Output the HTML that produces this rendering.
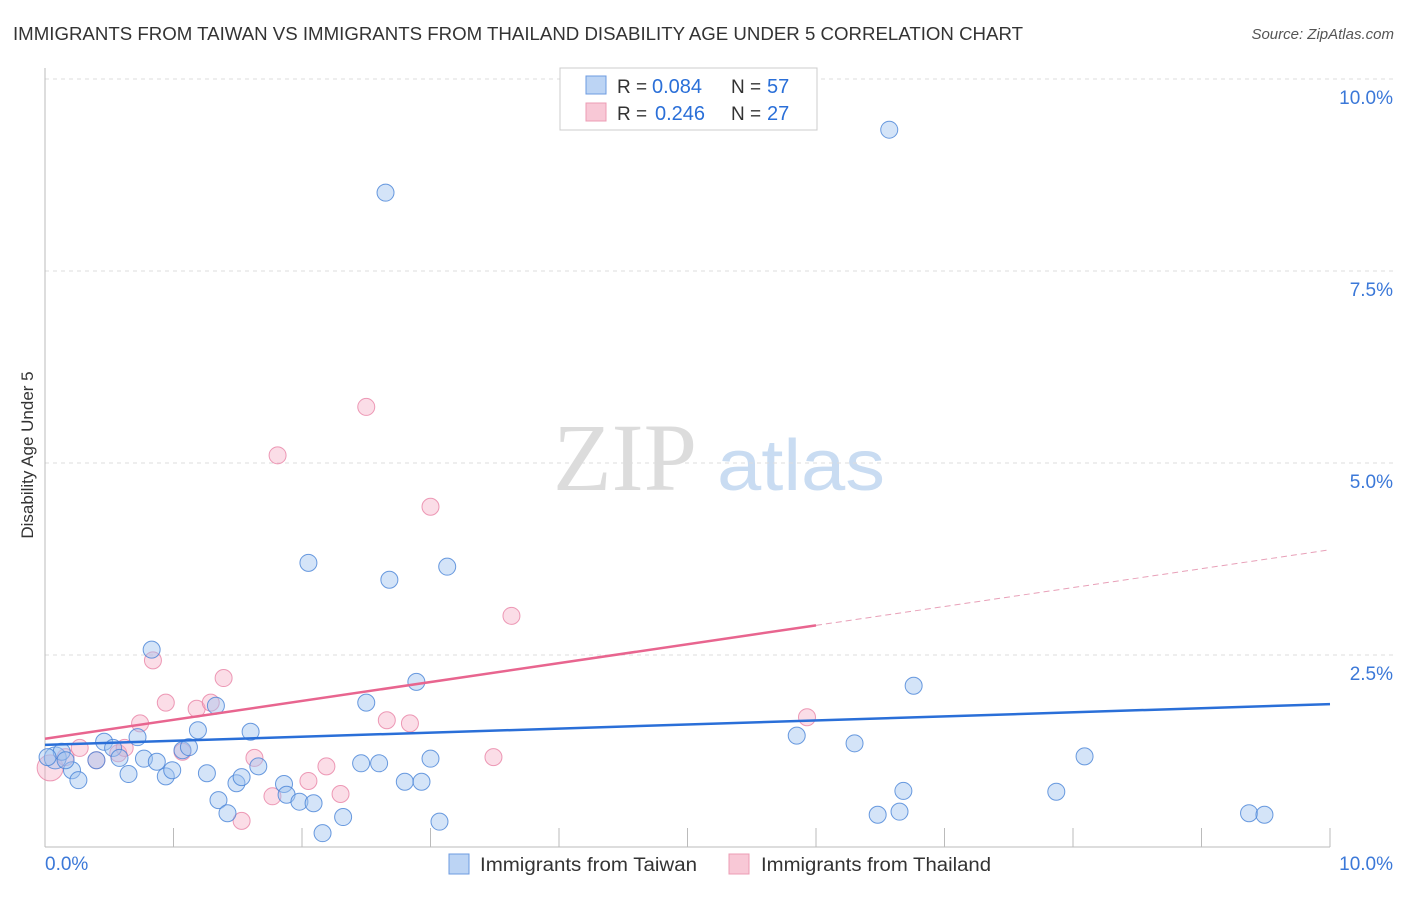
<!DOCTYPE html>
<html><head><meta charset="utf-8"><style>
body{margin:0;background:#fff;font-family:"Liberation Sans",sans-serif}
</style></head><body>
<svg id="chart" width="1406" height="892" xmlns="http://www.w3.org/2000/svg" font-family="Liberation Sans, sans-serif">
<text x="13" y="40" font-size="18" fill="#333" textLength="1010" lengthAdjust="spacingAndGlyphs">IMMIGRANTS FROM TAIWAN VS IMMIGRANTS FROM THAILAND DISABILITY AGE UNDER 5 CORRELATION CHART</text>
<text x="1394" y="39" font-size="15" fill="#555" text-anchor="end" font-style="italic">Source: ZipAtlas.com</text>
<text x="553" y="490" font-size="96" fill="#dcdcdc" font-family="Liberation Serif, serif">ZIP</text>
<text x="717" y="490" font-size="72" fill="#c9dcf2" textLength="168" lengthAdjust="spacingAndGlyphs">atlas</text>
<text transform="translate(33,455) rotate(-90)" font-size="17" fill="#333" text-anchor="middle">Disability Age Under 5</text>
<g id="grid"></g><g id="axes"></g><g id="marks"></g>
<g>
<rect x="560" y="68" width="257" height="62" fill="#fff" stroke="#ccc"/>
<rect x="586" y="76" width="20" height="18" fill="#bcd4f4" stroke="#6d9be0"/>
<rect x="586" y="103" width="20" height="18" fill="#f8c8d6" stroke="#ec9cb4"/>
<text x="617" y="93" font-size="19" fill="#333">R =</text>
<text x="652" y="93" font-size="20" fill="#2a6fd8">0.084</text>
<text x="731" y="93" font-size="19" fill="#333">N =</text>
<text x="767" y="93" font-size="20" fill="#2a6fd8">57</text>
<text x="617" y="120" font-size="19" fill="#333">R =</text>
<text x="655" y="120" font-size="20" fill="#2a6fd8">0.246</text>
<text x="731" y="120" font-size="19" fill="#333">N =</text>
<text x="767" y="120" font-size="20" fill="#2a6fd8">27</text>
</g>
<g>
<rect x="449" y="854" width="20" height="20" fill="#bcd4f4" stroke="#6d9be0"/>
<text x="480" y="871" font-size="19" fill="#333" textLength="217" lengthAdjust="spacingAndGlyphs">Immigrants from Taiwan</text>
<rect x="729" y="854" width="20" height="20" fill="#f8c8d6" stroke="#ec9cb4"/>
<text x="761" y="871" font-size="19" fill="#333" textLength="230" lengthAdjust="spacingAndGlyphs">Immigrants from Thailand</text>
</g>
</svg>
<script>
const taiwanX=[0.08,0.13,0.21,0.26,0.40,0.46,0.53,0.58,0.65,0.72,0.77,0.83,0.87,0.94,0.99,1.07,1.12,1.19,1.26,1.33,1.35,1.42,1.49,1.53,1.60,1.66,1.86,1.88,1.98,2.05,2.09,2.16,2.32,2.46,2.50,2.60,2.65,2.68,2.80,2.89,2.93,3.00,3.07,3.13,5.85,6.30,6.48,6.57,6.65,6.68,6.76,7.87,8.09,9.37,9.49,0.02,0.16];
const taiwanY=[1.16,1.24,1.00,0.87,1.13,1.37,1.29,1.16,0.95,1.43,1.15,2.57,1.11,0.92,1.00,1.26,1.30,1.52,0.96,1.84,0.61,0.44,0.83,0.91,1.50,1.05,0.82,0.68,0.59,3.70,0.57,0.18,0.39,1.09,1.88,1.09,8.52,3.48,0.85,2.15,0.85,1.15,0.33,3.65,1.45,1.35,0.42,9.34,0.46,0.73,2.10,0.72,1.18,0.44,0.42,1.17,1.13];
const thaiX=[0.04,0.16,0.27,0.40,0.57,0.62,0.74,0.84,0.94,1.07,1.18,1.29,1.39,1.53,1.63,1.77,1.81,2.05,2.19,2.30,2.50,2.66,2.84,3.00,3.49,3.63,5.93];
const thaiY=[1.03,1.17,1.29,1.13,1.22,1.29,1.61,2.43,1.88,1.24,1.80,1.88,2.20,0.34,1.16,0.66,5.10,0.86,1.05,0.69,5.73,1.65,1.61,4.43,1.17,3.01,1.69];
const yTicks=[2.5,5.0,7.5,10.0];
const xTickVals=[1,2,3,4,5,6,7,8,9,10];
const taiwanTrend=[1.33,1.86];
const thaiTrend=[1.41,3.87];
const thaiSolidEnd=6.0;

const X0=45,X1=1330,Y0=847,Y1=79;
const sx=v=>X0+(v/10)*(X1-X0);
const sy=v=>Y0-(v/10)*(Y0-Y1);
const NS="http://www.w3.org/2000/svg";
function mk(tag,attrs,parent){const e=document.createElementNS(NS,tag);for(const k in attrs)e.setAttribute(k,attrs[k]);parent.appendChild(e);return e;}
const grid=document.getElementById('grid'),axes=document.getElementById('axes'),marks=document.getElementById('marks');
yTicks.forEach(t=>{
  const l=mk('line',{x1:X0,x2:1395,y1:sy(t),y2:sy(t),stroke:'#ddd','stroke-dasharray':'4,4'},grid);
  
  
  const tx=mk('text',{x:1393,y:sy(t)+25,'font-size':19,fill:'#3b78d8','text-anchor':'end'},grid);
  tx.textContent=t.toFixed(1)+'%';
  
  
});
const ya=mk('line',{x1:X0,x2:X0,y1:68,y2:Y0,stroke:'#bbb'},axes);


const xa=mk('line',{x1:X0,x2:X1,y1:Y0,y2:Y0,stroke:'#bbb'},axes);


xTickVals.forEach(t=>{
  const l=mk('line',{x1:sx(t),x2:sx(t),y1:828,y2:Y0,stroke:'#bbb'},axes);
  
  
});
const xl0=mk('text',{x:45,y:870,'font-size':19,fill:'#3b78d8'},axes);xl0.textContent='0.0%';


const xl1=mk('text',{x:1393,y:870,'font-size':19,fill:'#3b78d8','text-anchor':'end'},axes);xl1.textContent='10.0%';



thaiX.forEach((x,i)=>{
  const c=mk('circle',{cx:sx(x),cy:sy(thaiY[i]),r:i===0?13:8.5,fill:'rgba(245,170,195,0.4)',stroke:'rgba(232,130,165,0.8)','stroke-width':1},marks);
  
  
});
taiwanX.forEach((x,i)=>{
  const c=mk('circle',{cx:sx(x),cy:sy(taiwanY[i]),r:i===0?11:8.5,fill:'rgba(160,195,240,0.45)',stroke:'rgba(70,130,215,0.8)','stroke-width':1},marks);
  
  
});
const tt=mk('line',{x1:sx(0),y1:sy(taiwanTrend[0]),x2:sx(10),y2:sy(taiwanTrend[1]),stroke:'#2a6fd8','stroke-width':2.5},marks);


const midY=thaiTrend[0]+(thaiTrend[1]-thaiTrend[0])*thaiSolidEnd/10;
const ts=mk('line',{x1:sx(0),y1:sy(thaiTrend[0]),x2:sx(thaiSolidEnd),y2:sy(midY),stroke:'#e8658f','stroke-width':2.5},marks);


const td=mk('line',{x1:sx(thaiSolidEnd),y1:sy(midY),x2:sx(10),y2:sy(thaiTrend[1]),stroke:'#e8a0b8','stroke-width':1,'stroke-dasharray':'6,4'},marks);


</script>
</body></html>
